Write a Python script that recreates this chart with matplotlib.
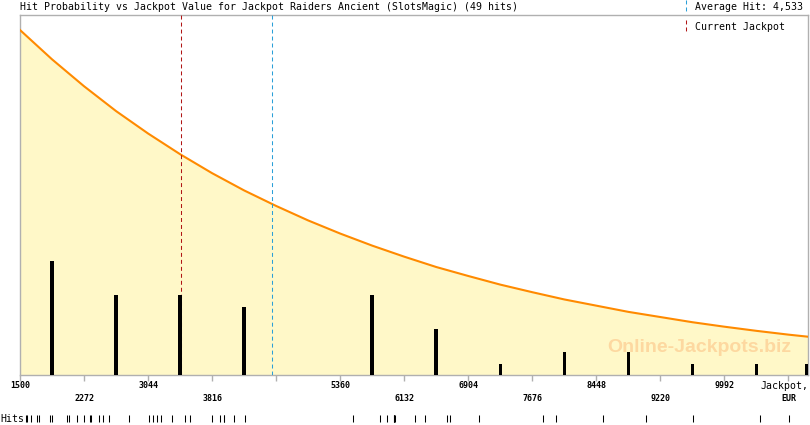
"""
plot.py — hit probability vs jackpot value chart (Jackpot Raiders Ancient).
"""

import numpy as np
import matplotlib
matplotlib.use("Agg")
import matplotlib.pyplot as plt

# ── Data ──
title = "Hit Probability vs Jackpot Value for Jackpot Raiders Ancient (SlotsMagic) (49 hits)"

x_min, x_max, bin_step = 1500, 11000, 772
avg_hit = 4533
current_jackpot = 3440

# recorded hits, EUR
hits = [
    1572, 1584, 1633, 1709, 1733, 1862, 1882, 2071, 2095, 2191,
    2276, 2348, 2352, 2457, 2505, 2577, 2818,
    3060, 3108, 3156, 3204, 3330, 3494, 3554,
    3820, 3913, 3961, 3965, 4085, 4214,
    5520, 5843, 5923, 6003, 6008, 6013, 6018,
    6265, 6386, 6647, 6687,
    7028, 7805, 7957, 8532, 9051, 9610, 10426, 10772,
]

# probability curve (relative, 1.0 at 1500 EUR)
curve_x = [1500, 1886, 2272, 2658, 3044, 3430, 3816, 4202, 4588, 4974,
           5360, 5746, 6132, 6518, 6904, 7290, 7676, 8062, 8448, 8834,
           9220, 9606, 9992, 10378, 10764, 11000]
curve_y = [1.000, 0.915, 0.837, 0.765, 0.700, 0.640, 0.585, 0.535, 0.490, 0.448,
           0.410, 0.375, 0.343, 0.313, 0.287, 0.262, 0.240, 0.219, 0.201, 0.183,
           0.168, 0.153, 0.140, 0.128, 0.117, 0.111]

tick_values = [1500, 2272, 3044, 3816, 5360, 6132, 6904, 7676, 8448, 9220, 9992]
all_ticks = list(range(1500, 10765, 772))

# ── Style ──
FILL = "#fff8c8"
ORANGE = "#ff8a00"
BLUE = "#2a9fd8"
RED = "#b01515"
GRAY = "#b0b0b0"
MONO = "DejaVu Sans Mono"

W, H = 810, 425
fig = plt.figure(figsize=(W / 100, H / 100), dpi=100)
ax = fig.add_axes([20 / W, 50 / H, 788 / W, 360 / H])
ax.set_xlim(x_min, x_max)
ax.set_ylim(0, 360 / 345)

for s in ax.spines.values():
    s.set_color(GRAY)
    s.set_linewidth(1)

# ── Curve ──
ax.fill_between(curve_x, curve_y, 0, color=FILL, lw=0, zorder=1)
ax.plot(curve_x, curve_y, color=ORANGE, lw=1.5, zorder=4)

# ── Histogram bars ──
edges = np.arange(x_min, x_max + 2 * bin_step, bin_step)
counts, edges = np.histogram(hits, bins=edges)
centers = (edges[:-1] + edges[1:]) / 2
centers = np.minimum(centers, x_max - 15)
ax2 = ax.twinx()
ax2.set_ylim(0, 360 / 11.4)
ax2.axis("off")
mask = counts > 0
ax2.bar(centers[mask], counts[mask], width=42, color="black", zorder=3)

# ── Reference lines ──
dash = (3.8, 2.9)
ax.axvline(current_jackpot, color=RED, lw=0.75, dashes=dash, zorder=5)
ax.axvline(avg_hit, color=BLUE, lw=0.75, dashes=dash, zorder=5)

# ── Watermark ──
ax.text(0.862, 0.077, "Online-Jackpots.biz", transform=ax.transAxes,
        ha="center", va="center", fontsize=14, fontweight="bold",
        family="Liberation Sans", color="#fdd8a0", zorder=2)

# ── X axis ──
ax.set_xticks(all_ticks)
ax.set_xticklabels([])
ax.tick_params(axis="x", length=4, color=GRAY, width=1)
ax.set_yticks([])
trans = ax.get_xaxis_transform()
for i, v in enumerate(tick_values):
    y = -0.03 if i % 2 == 0 else -0.066
    ax.text(v, y, str(v), transform=trans, ha="center", va="center",
            fontsize=6, family=MONO, fontweight="bold")
ax.text(1.0, -0.03, "Jackpot,", transform=ax.transAxes, ha="right",
        va="center", fontsize=7.1, family=MONO)
ax.text(10764, -0.066, "EUR", transform=trans, ha="center", va="center",
        fontsize=6, family=MONO, fontweight="bold")

# ── Hits rug ──
ax.vlines(hits, -0.131, -0.111, transform=trans, color="black", lw=0.75,
          clip_on=False)
fig.text(0 / W, 1 - 419 / H, "Hits:", ha="left", va="center",
         fontsize=7.1, family=MONO)

# ── Title & legend ──
fig.text(20 / W, 1 - 7 / H, title, ha="left", va="center", fontsize=7.1,
         family=MONO)
fig.add_artist(plt.Line2D([686 / W, 686 / W], [1 - 0 / H, 1 - 12 / H],
                          color=BLUE, lw=0.75, dashes=dash))
fig.text(695 / W, 1 - 7 / H, "Average Hit: 4,533", ha="left", va="center",
         fontsize=7.1, family=MONO)
fig.add_artist(plt.Line2D([686 / W, 686 / W], [1 - 20 / H, 1 - 33 / H],
                          color=RED, lw=0.75, dashes=dash))
fig.text(695 / W, 1 - 27 / H, "Current Jackpot", ha="left", va="center",
         fontsize=7.1, family=MONO)

fig.savefig("out.png", dpi=100)
